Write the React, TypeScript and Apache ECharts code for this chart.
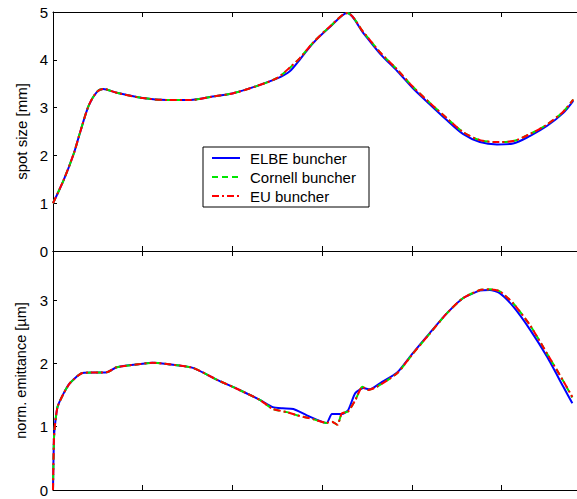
import React, { useEffect, useRef } from "react";
import * as echarts from "echarts";

const seriesNames = ["ELBE buncher", "Cornell buncher", "EU buncher"];
const seriesColors = ["#0000ff", "#00e600", "#ff0000"];

// Top panel: spot size [mm]
const spotX = [0, 0.12, 0.23, 0.3, 0.4, 0.49, 0.56, 0.71, 1.0, 1.27, 1.53, 1.78, 2.01, 2.27, 2.5, 2.64, 2.75, 2.9, 3.09, 3.28, 3.46, 3.65, 3.84, 4.01, 4.2, 4.39, 4.57, 4.76, 4.95, 5.13, 5.32, 5.51, 5.69, 5.8];
const spotElbe = [1.0, 1.49, 2.03, 2.47, 3.05, 3.33, 3.39, 3.31, 3.2, 3.16, 3.16, 3.23, 3.3, 3.45, 3.61, 3.76, 4.0, 4.35, 4.69, 4.98, 4.56, 4.12, 3.76, 3.41, 3.07, 2.74, 2.45, 2.28, 2.23, 2.25, 2.41, 2.62, 2.89, 3.14];
const spotCornell = [1.0, 1.49, 2.03, 2.47, 3.05, 3.33, 3.39, 3.31, 3.2, 3.16, 3.16, 3.23, 3.3, 3.45, 3.62, 3.83, 4.03, 4.36, 4.7, 4.98, 4.58, 4.15, 3.79, 3.44, 3.1, 2.78, 2.49, 2.32, 2.28, 2.3, 2.45, 2.65, 2.92, 3.17];
const spotEu = [1.0, 1.49, 2.03, 2.47, 3.05, 3.33, 3.39, 3.31, 3.2, 3.16, 3.16, 3.23, 3.3, 3.45, 3.62, 3.84, 4.03, 4.36, 4.7, 4.98, 4.58, 4.15, 3.79, 3.44, 3.1, 2.78, 2.49, 2.32, 2.28, 2.3, 2.45, 2.65, 2.92, 3.17];

// Bottom panel: norm. emittance [µm]
const emitXElbe = [0, 0.01, 0.02, 0.05, 0.12, 0.19, 0.33, 0.6, 0.71, 0.97, 1.11, 1.27, 1.56, 1.83, 2.08, 2.31, 2.45, 2.56, 2.68, 2.83, 3.05, 3.11, 3.22, 3.29, 3.37, 3.46, 3.53, 3.65, 3.84, 4.01, 4.2, 4.39, 4.57, 4.76, 4.87, 4.98, 5.13, 5.32, 5.51, 5.69, 5.79];
const emitElbe = [0, 0.79, 1.0, 1.31, 1.53, 1.69, 1.85, 1.86, 1.94, 1.99, 2.01, 1.99, 1.93, 1.74, 1.58, 1.42, 1.31, 1.29, 1.28, 1.18, 1.06, 1.2, 1.2, 1.26, 1.53, 1.61, 1.59, 1.69, 1.86, 2.16, 2.48, 2.79, 3.03, 3.15, 3.16, 3.11, 2.9, 2.53, 2.1, 1.63, 1.37];
const emitXEu = [0, 0.01, 0.02, 0.05, 0.12, 0.19, 0.33, 0.6, 0.71, 0.97, 1.11, 1.27, 1.56, 1.83, 2.08, 2.31, 2.45, 2.61, 2.72, 2.9, 3.05, 3.11, 3.17, 3.22, 3.29, 3.37, 3.45, 3.51, 3.61, 3.84, 4.01, 4.2, 4.39, 4.57, 4.76, 4.87, 4.98, 5.13, 5.32, 5.51, 5.69, 5.79];
const emitCornell = [0, 0.79, 1.0, 1.31, 1.53, 1.69, 1.85, 1.86, 1.94, 1.99, 2.01, 1.99, 1.93, 1.74, 1.58, 1.42, 1.28, 1.23, 1.18, 1.12, 1.06, 1.08, 1.03, 1.21, 1.24, 1.42, 1.63, 1.58, 1.63, 1.85, 2.15, 2.47, 2.79, 3.03, 3.16, 3.17, 3.14, 2.95, 2.6, 2.15, 1.72, 1.46];
const emitEu = [0, 0.79, 1.0, 1.31, 1.53, 1.69, 1.85, 1.86, 1.94, 1.99, 2.01, 1.99, 1.93, 1.74, 1.58, 1.42, 1.28, 1.23, 1.18, 1.12, 1.06, 1.08, 1.03, 1.21, 1.24, 1.42, 1.63, 1.58, 1.63, 1.85, 2.15, 2.47, 2.79, 3.03, 3.16, 3.17, 3.14, 2.95, 2.6, 2.15, 1.72, 1.47];

const X_MAX = 5.842;
const EMIT_MAX = 3.776;
const FONT = "'Liberation Sans', Arial, sans-serif";

const zip = (xs: number[], ys: number[]) => xs.map((x, i) => [x, ys[i]]);

const lineTypes: any[] = ["solid", [6, 4], [7, 3, 2, 3]];
const legendDash: any[] = [null, [6, 4], [7, 3, 2, 3]];

export default function App() {
  const ref = useRef<HTMLDivElement>(null);
  useEffect(() => {
    document.body.style.margin = "0";
    const chart = echarts.init(ref.current!, null, { renderer: "svg" });
    const xBase = (gridIndex: number, position: "top" | "bottom") => ({
      type: "value",
      gridIndex,
      position,
      min: 0,
      max: X_MAX,
      interval: 1,
      axisLine: { show: true, onZero: false, lineStyle: { color: "#000", width: 1 } },
      axisTick: { show: true, inside: true, length: 5, lineStyle: { color: "#000" } },
      axisLabel: { show: false },
      splitLine: { show: false },
    });
    const yBase = (gridIndex: number, max: number, name: string, showMax: boolean, nameSize: number) => ({
      type: "value",
      gridIndex,
      min: 0,
      max,
      interval: 1,
      name,
      nameLocation: "middle",
      nameGap: 24,
      nameTextStyle: { fontFamily: FONT, fontSize: nameSize, color: "#000" },
      axisLine: { show: true, onZero: false, lineStyle: { color: "#000", width: 1 } },
      axisTick: { show: true, inside: true, length: 4, lineStyle: { color: "#000" } },
      axisLabel: { fontFamily: FONT, fontSize: 15, color: "#000", margin: 5, showMaxLabel: showMax },
      splitLine: { show: false },
    });
    const topData = [spotElbe, spotCornell, spotEu];
    const botX = [emitXElbe, emitXEu, emitXEu];
    const botData = [emitElbe, emitCornell, emitEu];
    const series: any[] = [];
    for (let i = 0; i < 3; i++) {
      series.push({
        type: "line",
        name: seriesNames[i],
        xAxisIndex: 0,
        yAxisIndex: 0,
        data: zip(spotX, topData[i]),
        showSymbol: false,
        symbol: "none",
        smooth: 0.3,
        lineStyle: { color: seriesColors[i], width: 2, type: lineTypes[i] },
        itemStyle: { color: seriesColors[i] },
      });
    }
    for (let i = 0; i < 3; i++) {
      series.push({
        type: "line",
        name: seriesNames[i],
        xAxisIndex: 2,
        yAxisIndex: 1,
        data: zip(botX[i], botData[i]),
        showSymbol: false,
        symbol: "none",
        smooth: 0.2,
        lineStyle: { color: seriesColors[i], width: 2, type: lineTypes[i] },
        itemStyle: { color: seriesColors[i] },
      });
    }
    const legendX = 203;
    const legendY = 147;
    const legendW = 166;
    const legendH = 60;
    const rowY = [11, 30, 49];
    const legendChildren: any[] = [
      {
        type: "rect",
        shape: { x: 0, y: 0, width: legendW, height: legendH },
        style: { fill: "#fff", stroke: "#000", lineWidth: 1 },
      },
    ];
    seriesNames.forEach((name, i) => {
      legendChildren.push({
        type: "line",
        shape: { x1: 9, y1: rowY[i], x2: 37, y2: rowY[i] },
        style: { stroke: seriesColors[i], lineWidth: 2, lineDash: legendDash[i] },
      });
      legendChildren.push({
        type: "text",
        x: 47,
        y: rowY[i],
        style: { text: name, fontFamily: FONT, fontSize: 15, fill: "#000", verticalAlign: "middle", align: "left" },
      });
    });
    chart.setOption({
      animation: false,
      backgroundColor: "#fff",
      grid: [
        { left: 53, top: 12, width: 530, height: 239 },
        { left: 53, top: 251, width: 530, height: 239 },
      ],
      xAxis: [xBase(0, "bottom"), xBase(0, "top"), xBase(1, "bottom"), xBase(1, "top")],
      yAxis: [
        yBase(0, 5, "spot size [mm]", true, 15),
        yBase(1, EMIT_MAX, "norm. emittance [µm]", false, 14.5),
      ],
      graphic: [{ type: "group", x: legendX, y: legendY, z: 100, children: legendChildren }],
      series,
    });
    return () => chart.dispose();
  }, []);
  return <div ref={ref} style={{ width: 577, height: 499 }} />;
}
